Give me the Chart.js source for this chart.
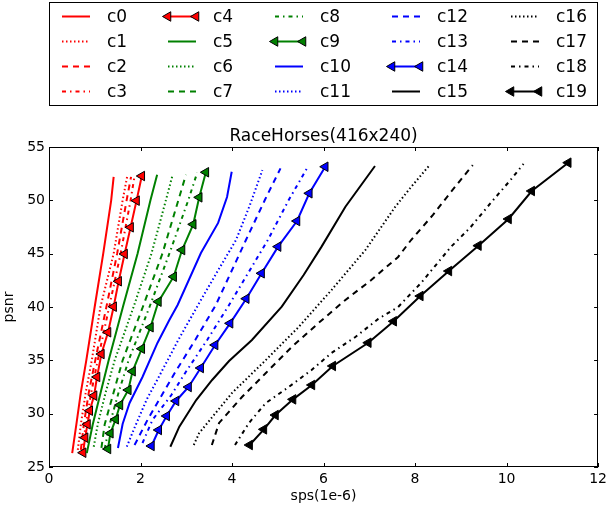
<!DOCTYPE html>
<html>
<head>
<meta charset="utf-8">
<script src="https://cdn.jsdelivr.net/npm/chart.js@4.4.1/dist/chart.umd.min.js"></script>
<style>
  html, body { margin: 0; padding: 0; background: #fff; }
  #wrap { width: 611px; height: 508px; }
</style>
</head>
<body>
<div id="wrap"><canvas id="chart" width="611" height="508"></canvas></div>
<script>
// dati: sps (1e-6) e psnr per ogni curva
var xTicks = [0, 2, 4, 6, 8, 10, 12];
var yTicks = [25, 30, 35, 40, 45, 50, 55];

var c0_sps  = [0.507, 0.598, 0.696, 0.815, 0.998, 1.185, 1.359, 1.413];
var c0_psnr = [26.3, 29.0, 32.0, 35.0, 40.0, 45.0, 50.0, 52.2];
var c1_sps  = [0.63, 0.696, 0.804, 0.935, 1.124, 1.413, 1.609, 1.707];
var c1_psnr = [26.6, 29.0, 32.0, 35.0, 40.0, 45.0, 50.0, 52.2];
var c2_sps  = [0.696, 0.761, 0.87, 1.011, 1.254, 1.489, 1.696, 1.793];
var c2_psnr = [26.6, 29.0, 32.0, 35.0, 40.0, 45.0, 50.0, 52.2];
var c3_sps  = [0.72, 0.804, 0.924, 1.065, 1.315, 1.565, 1.783, 1.87];
var c3_psnr = [26.3, 29.0, 32.0, 35.0, 40.0, 45.0, 50.0, 52.3];
var c4_sps  = [0.746, 0.789, 0.841, 0.891, 0.985, 1.05, 1.145, 1.29, 1.413, 1.522, 1.652, 1.783, 1.913, 2.028];
var c4_psnr = [26.34, 27.75, 29.0, 30.28, 31.69, 33.44, 35.59, 37.63, 40.03, 42.41, 44.97, 47.47, 49.97, 52.28];

var c5_sps  = [0.826, 0.957, 1.13, 1.304, 1.615, 1.935, 2.217, 2.363];
var c5_psnr = [26.3, 29.0, 32.0, 35.0, 40.0, 45.0, 50.0, 52.4];
var c6_sps  = [0.978, 1.065, 1.239, 1.435, 1.848, 2.239, 2.554, 2.702];
var c6_psnr = [26.9, 29.0, 32.0, 35.0, 40.0, 45.0, 50.0, 52.4];
var c7_sps  = [1.146, 1.217, 1.413, 1.609, 2.05, 2.478, 2.826, 2.993];
var c7_psnr = [26.8, 29.0, 32.0, 35.0, 40.0, 45.0, 50.0, 52.4];
var c8_sps  = [1.217, 1.326, 1.522, 1.739, 2.196, 2.63, 3.043, 3.239];
var c8_psnr = [26.7, 29.0, 32.0, 35.0, 40.0, 45.0, 50.0, 52.6];
var c9_sps  = [1.289, 1.341, 1.457, 1.55, 1.733, 1.826, 2.028, 2.217, 2.391, 2.724, 2.907, 3.152, 3.283, 3.428];
var c9_psnr = [26.69, 28.16, 29.47, 30.81, 32.22, 33.97, 36.09, 38.1, 40.5, 42.84, 45.34, 47.75, 50.28, 52.63];

var c10_sps  = [1.507, 1.609, 1.761, 2.043, 2.37, 2.63, 2.811, 3.32, 3.696, 3.891, 3.993];
var c10_psnr = [26.78, 29.03, 31.0, 33.44, 36.63, 38.78, 40.19, 45.06, 47.88, 50.31, 52.68];
var c11_sps  = [1.7, 1.848, 2.13, 2.457, 2.826, 3.283, 3.674, 4.087, 4.391, 4.663];
var c11_psnr = [26.9, 28.47, 31.28, 33.91, 36.91, 40.38, 43.28, 46.28, 49.56, 52.84];
var c12_sps  = [1.87, 2.152, 2.761, 3.196, 3.646, 4.304, 4.717, 5.059];
var c12_psnr = [27.06, 29.41, 33.91, 36.91, 40.19, 46.28, 50.03, 53.0];
var c13_sps  = [2.043, 2.261, 2.674, 2.989, 3.457, 3.935, 4.783, 5.239, 5.637];
var c13_psnr = [27.25, 29.41, 31.75, 33.91, 36.91, 40.19, 46.28, 50.03, 53.0];
var c14_sps  = [2.239, 2.398, 2.572, 2.776, 3.05, 3.315, 3.63, 3.957, 4.311, 4.646, 5.007, 5.42, 5.689, 6.037];
var c14_psnr = [26.97, 28.47, 29.78, 31.19, 32.5, 34.28, 36.44, 38.47, 40.78, 43.16, 45.66, 48.06, 50.66, 53.15];

var c15_sps  = [2.652, 2.848, 3.217, 3.565, 3.935, 4.435, 5.087, 5.565, 5.957, 6.478, 7.124];
var c15_psnr = [26.9, 28.78, 31.28, 33.16, 34.94, 36.91, 40.03, 43.0, 45.66, 49.4, 53.22];
var c16_sps  = [3.163, 3.283, 4.0, 4.739, 5.457, 6.174, 6.913, 7.565, 7.913, 8.32];
var c16_psnr = [27.06, 28.19, 31.94, 35.03, 38.13, 41.59, 45.34, 49.38, 51.25, 53.31];
var c17_sps  = [3.559, 3.717, 4.217, 4.739, 5.304, 5.891, 6.478, 7.043, 7.63, 7.913, 8.391, 8.783, 9.261];
var c17_psnr = [27.06, 29.13, 31.56, 33.81, 36.25, 38.5, 40.66, 42.53, 44.69, 46.28, 48.63, 50.78, 53.31];
var c18_sps  = [4.065, 4.37, 4.739, 5.239, 5.739, 6.174, 6.696, 7.196, 7.63, 8.13, 8.783, 9.217, 9.652, 10.087, 10.37];
var c18_psnr = [27.06, 29.13, 31.0, 32.5, 34.1, 35.69, 37.19, 38.88, 40.0, 42.25, 45.63, 47.5, 49.75, 51.91, 53.41];
var c19_sps  = [4.385, 4.696, 4.95, 5.333, 5.746, 6.202, 6.978, 7.533, 8.115, 8.739, 9.385, 10.043, 10.55, 11.348];
var c19_psnr = [27.06, 28.53, 29.87, 31.34, 32.69, 34.47, 36.65, 38.66, 41.03, 43.37, 45.75, 48.25, 50.875, 53.53];

var allSps  = [c0_sps, c1_sps, c2_sps, c3_sps, c4_sps, c5_sps, c6_sps, c7_sps, c8_sps, c9_sps,
               c10_sps, c11_sps, c12_sps, c13_sps, c14_sps, c15_sps, c16_sps, c17_sps, c18_sps, c19_sps];
var allPsnr = [c0_psnr, c1_psnr, c2_psnr, c3_psnr, c4_psnr, c5_psnr, c6_psnr, c7_psnr, c8_psnr, c9_psnr,
               c10_psnr, c11_psnr, c12_psnr, c13_psnr, c14_psnr, c15_psnr, c16_psnr, c17_psnr, c18_psnr, c19_psnr];

// stili: colore per gruppo, tratteggio per posizione nel gruppo
var colori = ['#ff0000', '#008000', '#0000ff', '#000000'];
var tratti = [[], [1.5, 2.5], [6, 5], [4, 4, 1.5, 4], []];
var FONT = "'DejaVu Sans', 'Liberation Sans', sans-serif";
var titolo = 'RaceHorses(416x240)';

function makePoints(xs, ys) {
    var out = [];
    for (var i = 0; i < xs.length; i++) out.push({x: xs[i], y: ys[i]});
    return out;
}

var datasets = [];
for (var i = 0; i < 20; i++) {
    var col = colori[Math.floor(i / 5)];
    var kind = i % 5;
    datasets.push({
        label: 'c' + i,
        data: makePoints(allSps[i], allPsnr[i]),
        borderColor: col,
        backgroundColor: col,
        borderWidth: 2,
        borderDash: tratti[kind],
        tension: 0,
        fill: false,
        order: 19 - i,
        pointRadius: kind == 4 ? 5.5 : 0,
        pointStyle: 'triangle',
        pointRotation: -90,
        pointBackgroundColor: col,
        pointBorderColor: '#000',
        pointBorderWidth: 1
    });
}

// cornice, tacche verso l'interno e titolo centrato sull'area del grafico
var framePlugin = {
    id: 'frame',
    afterDatasetsDraw: function(chart) {
        var ctx = chart.ctx, a = chart.chartArea;
        var sx = chart.scales.x, sy = chart.scales.y;
        ctx.save();
        ctx.strokeStyle = '#000';
        ctx.lineWidth = 1;
        ctx.setLineDash([]);
        ctx.strokeRect(Math.round(a.left) + 0.5, Math.round(a.top) + 0.5,
                       Math.round(a.right - a.left) - 1, Math.round(a.bottom - a.top) - 1);
        ctx.beginPath();
        xTicks.forEach(function(v) {
            var px = Math.round(sx.getPixelForValue(v)) + 0.5;
            ctx.moveTo(px, a.bottom); ctx.lineTo(px, a.bottom - 4);
            ctx.moveTo(px, a.top); ctx.lineTo(px, a.top + 4);
        });
        yTicks.forEach(function(v) {
            var py = Math.round(sy.getPixelForValue(v)) + 0.5;
            ctx.moveTo(a.left, py); ctx.lineTo(a.left + 4, py);
            ctx.moveTo(a.right, py); ctx.lineTo(a.right - 4, py);
        });
        ctx.stroke();

        ctx.fillStyle = '#000';
        ctx.font = '17px ' + FONT;
        ctx.textAlign = 'center';
        ctx.textBaseline = 'alphabetic';
        ctx.fillText(titolo, (a.left + a.right) / 2, a.top - 6);
        ctx.restore();
    }
};

// legenda a 5 colonne, ordinata per colonna
var legendPlugin = {
    id: 'boxLegend',
    afterDraw: function(chart) {
        var ctx = chart.ctx;
        var colX = [62, 168, 275, 392, 511];
        var rowY = [16.5, 41.5, 66.5, 91.5];
        var len = 28;
        ctx.save();
        ctx.strokeStyle = '#000';
        ctx.lineWidth = 1;
        ctx.strokeRect(49.5, 2.5, 548, 103);
        ctx.font = '17px ' + FONT;
        ctx.textBaseline = 'middle';
        ctx.fillStyle = '#000';
        for (var c = 0; c < 5; c++) {
            for (var r = 0; r < 4; r++) {
                var idx = c * 4 + r;
                var ds = chart.data.datasets[idx];
                var x0 = colX[c], y = rowY[r];
                ctx.beginPath();
                ctx.strokeStyle = ds.borderColor;
                ctx.lineWidth = 2;
                ctx.setLineDash(ds.borderDash);
                ctx.moveTo(x0, y); ctx.lineTo(x0 + len, y);
                ctx.stroke();
                ctx.setLineDash([]);
                if (idx % 5 == 4) {
                    [x0, x0 + len].forEach(function(mx) {
                        var rr = 5.5;
                        ctx.beginPath();
                        ctx.moveTo(mx - rr, y);
                        ctx.lineTo(mx + rr * 0.5, y - rr * 0.866);
                        ctx.lineTo(mx + rr * 0.5, y + rr * 0.866);
                        ctx.closePath();
                        ctx.fillStyle = ds.borderColor;
                        ctx.fill();
                        ctx.strokeStyle = '#000';
                        ctx.lineWidth = 1;
                        ctx.stroke();
                    });
                }
                ctx.fillStyle = '#000';
                ctx.fillText(ds.label, x0 + 45, y + 1);
            }
        }
        ctx.restore();
    }
};

var ctx = document.getElementById('chart').getContext('2d');
window.psnrChart = new Chart(ctx, {
    type: 'line',
    data: { datasets: datasets },
    plugins: [framePlugin, legendPlugin],
    options: {
        responsive: false,
        animation: false,
        layout: { padding: { top: 147, right: 10, left: 0, bottom: 0 } },
        plugins: {
            legend: { display: false },
            tooltip: { enabled: false },
            title: { display: false }
        },
        scales: {
            x: {
                type: 'linear',
                min: 0,
                max: 12,
                grid: { display: false, drawTicks: false },
                border: { display: false },
                afterFit: function(s) { s.height = 41; },
                ticks: {
                    stepSize: 2,
                    padding: 4,
                    color: '#000',
                    font: { family: FONT, size: 14 },
                    maxRotation: 0
                },
                title: {
                    display: true,
                    text: 'sps(1e-6)',
                    color: '#000',
                    font: { family: FONT, size: 14 },
                    padding: { top: 0, bottom: 3 }
                }
            },
            y: {
                min: 25,
                max: 55,
                grid: { display: false, drawTicks: false },
                border: { display: false },
                afterFit: function(s) { s.width = 49; },
                ticks: {
                    stepSize: 5,
                    padding: 4,
                    color: '#000',
                    font: { family: FONT, size: 14 }
                },
                title: {
                    display: true,
                    text: 'psnr',
                    color: '#000',
                    font: { family: FONT, size: 14 },
                    padding: { top: 1, bottom: 0 }
                }
            }
        }
    }
});
</script>
</body>
</html>
